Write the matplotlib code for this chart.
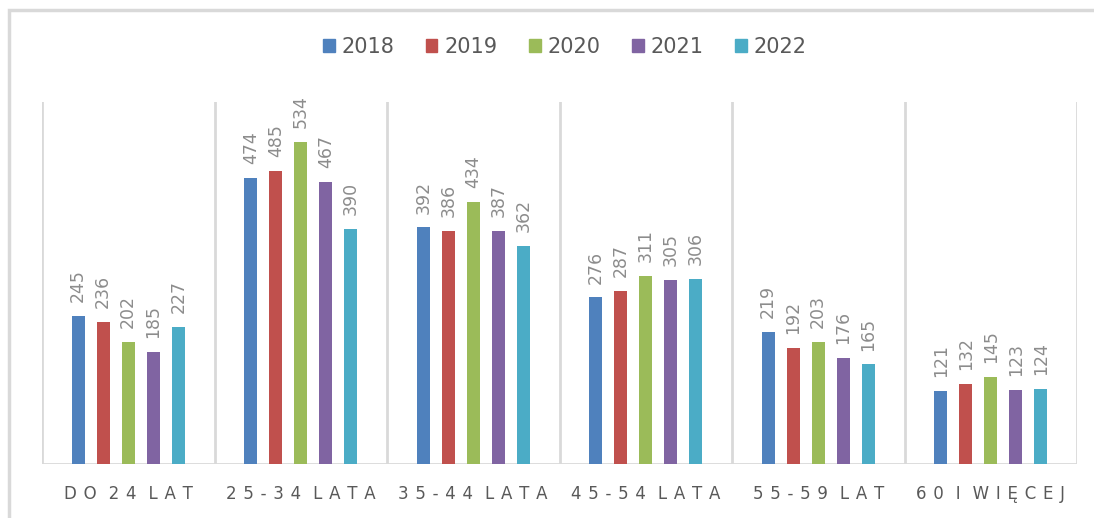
import matplotlib.pyplot as plt
import matplotlib.patches as mpatches
import numpy as np

# age groups and yearly counts
categories = ['DO 24 LAT', '25-34 LATA', '35-44 LATA', '45-54 LATA', '55-59 LAT', '60 I WIĘCEJ']
years = ['2018', '2019', '2020', '2021', '2022']
v2018 = [245, 474, 392, 276, 219, 121]
v2019 = [236, 485, 386, 287, 192, 132]
v2020 = [202, 534, 434, 311, 203, 145]
v2021 = [185, 467, 387, 305, 176, 123]
v2022 = [227, 390, 362, 306, 165, 124]
series = [v2018, v2019, v2020, v2021, v2022]
colors = ['#4F81BD', '#C0504D', '#9BBB59', '#8064A2', '#4BACC6']

grid_col = '#D9D9D9'
text_col = '#595959'

fig = plt.figure(figsize=(10.94, 5.18), dpi=100)
ax = fig.add_axes([42 / 1094, 54 / 518, 1035 / 1094, 362 / 518])

x = np.arange(len(categories))
pitch = 0.145
width = 0.076
for i, (vals, c) in enumerate(zip(series, colors)):
    pos = x + (i - 2) * pitch
    ax.bar(pos, vals, width=width, color=c, label=years[i], zorder=3)
    for p, v in zip(pos, vals):
        ax.annotate(str(v), (p, v), xytext=(0, 10), textcoords='offset points',
                    rotation=90, ha='center', va='bottom', fontsize=12.5,
                    color='#8C8C8C')

ax.set_xlim(-0.5, len(categories) - 0.5)
ax.set_ylim(0, 600)

# category separators
for b in np.arange(-0.5, len(categories), 1.0):
    ax.axvline(b, color=grid_col, lw=2, zorder=1)
ax.axhline(0, color=grid_col, lw=2, zorder=2)

for s in ax.spines.values():
    s.set_visible(False)
ax.set_yticks([])
ax.set_xticks(x)
# wide letter spacing like the original axis labels
spaced = ['\u2009 \u2009'.join('\u2009\u2009'.join(w) for w in c.split(' ')) for c in categories]
ax.set_xticklabels(spaced, fontsize=12, color=text_col)
ax.tick_params(axis='x', length=0, pad=15)

handles = [mpatches.Patch(color=c) for c in colors]
fig.legend(handles, years, loc='center', bbox_to_anchor=(565 / 1094, 1 - 47 / 518),
           ncol=5, frameon=False, fontsize=15, labelcolor=text_col,
           handlelength=0.55, handleheight=0.55, handletextpad=0.35, columnspacing=1.5)

# outer chart frame (right and bottom edges fall outside the image)
fig.patches.append(mpatches.Rectangle((9 / 1094, -0.1), 1.2, 1 - 10 / 518 + 0.1,
                                      transform=fig.transFigure, fill=False,
                                      edgecolor=grid_col, lw=2.5))

fig.savefig('out.png', dpi=100)
